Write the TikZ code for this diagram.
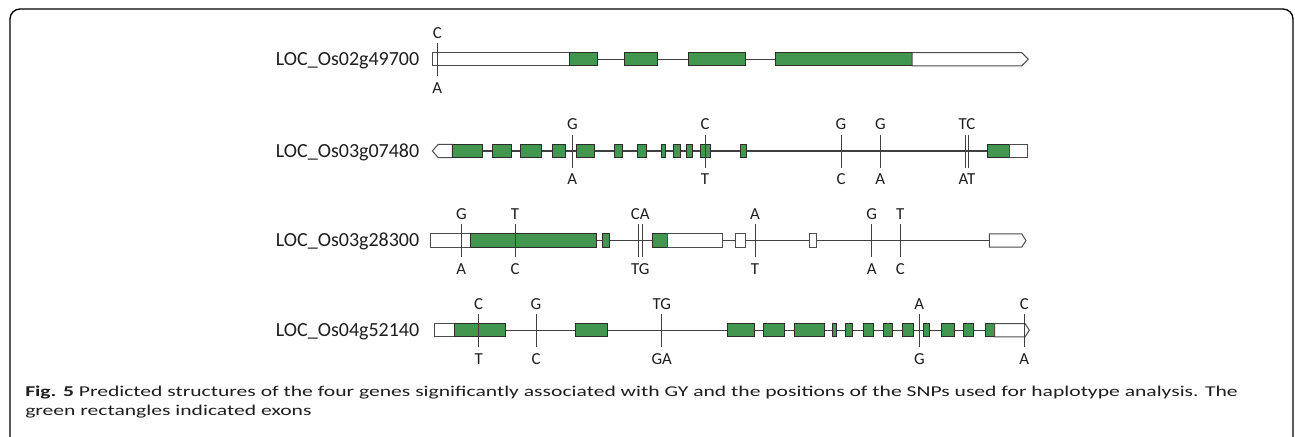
\documentclass[tikz,border=0pt]{standalone}
\usepackage{fontspec}
\setmainfont{Carlito}
\newfontfamily\capfont[FakeStretch=1.44]{Carlito}
\definecolor{exongreen}{RGB}{66,150,80}
\definecolor{edgegray}{RGB}{45,45,45}
\definecolor{linegray}{RGB}{64,64,64}
\definecolor{textdark}{RGB}{30,30,30}
\tikzset{
  exonbox/.style={draw=edgegray, fill=exongreen, line width=0.75pt},
  utrbox/.style={draw=edgegray!85, fill=white, line width=0.75pt},
  intronline/.style={draw=linegray, line width=0.8pt},
  snpline/.style={draw=linegray, line width=0.75pt},
  snplab/.style={font=\fontsize{12.6}{14}\selectfont, inner sep=0pt, anchor=center, text=textdark},
  genelab/.style={font=\fontsize{15}{17}\selectfont, inner sep=0pt, anchor=base east, text=textdark},
  caplab/.style={font=\capfont\fontsize{11.25}{14}\selectfont, inner sep=0pt, anchor=base west, text=textdark},
  frame/.style={draw=black, line width=1pt, rounded corners=7.5pt}
}
% exon / utr rectangles: x1, x2, yc
\newcommand\ex[3]{\draw[exonbox] (#1,{#3-6.7}) rectangle (#2,{#3+6.7});}
\newcommand\ut[3]{\draw[utrbox] (#1,{#3-6.7}) rectangle (#2,{#3+6.7});}
% right-pointing utr: x1, x2 (rect end), tip, yc
\newcommand\utr[4]{\draw[utrbox] (#1,{#4-6.7}) -- (#2,{#4-6.7}) -- (#3,#4) -- (#2,{#4+6.7}) -- (#1,{#4+6.7}) -- cycle;}
% snp tick: x, yc, name
\newcommand\tick[3]{\coordinate (#3t) at (#1,{#2-16.5}); \coordinate (#3b) at (#1,{#2+16.5}); \draw[snpline] (#3t) -- (#3b);}
% snp labels: x, yc, top, bottom, name
\newcommand\labs[5]{\node[snplab] (#5T) at (#1,{#2-26.5}) {#3}; \node[snplab] (#5B) at (#1,{#2+28.5}) {#4};}
\newcommand\snp[5]{\tick{#1}{#2}{#5}\labs{#1}{#2}{#3}{#4}{#5}}
\begin{document}
\begin{tikzpicture}[x=0.75pt, y=-0.75pt]
\useasboundingbox (0,0) rectangle (1295,436);
\begin{scope}
\clip (0,0) rectangle (1295,436);
\draw[frame] (10,9) rectangle (1293,448);
\end{scope}

% ---------- Row 1 ----------
\def\yc{59.2}
\node[genelab] (g1) at (419.5,{\yc+6}) {LOC\_Os02g49700};
\coordinate (r1s) at (569,\yc); \coordinate (r1e) at (912,\yc);
\draw[intronline] (r1s) -- (r1e);
\ut{432.3}{569}{\yc}
\foreach \a/\b in {569/597, 624/657.7, 688/745.7, 775.7/912} {\ex{\a}{\b}{\yc}}
\utr{912}{1021.7}{1028.3}{\yc}
\snp{437.3}{\yc}{C}{A}{s1a}

% ---------- Row 2 ----------
\def\yc{151}
\node[genelab] (g2) at (419.5,{\yc+6}) {LOC\_Os03g07480};
\coordinate (r2s) at (452.3,\yc); \coordinate (r2e) at (987.7,\yc);
\draw[intronline] (r2s) -- (r2e);
\draw[utrbox] (452.3,{\yc-6.7}) -- (438.3,{\yc-6.7}) -- (432.3,\yc) -- (438.3,{\yc+6.7}) -- (452.3,{\yc+6.7}) -- cycle;
\foreach \a/\b in {452.3/482.3, 492.7/511.7, 520/541.7, 552.3/565.7, 576/594.3, 614.7/622, 637/646.7, 661.3/665.7, 673/680.7, 686.7/692.7, 700.3/710, 740.7/746.7, 987.7/1009.3} {\ex{\a}{\b}{\yc}}
\ut{1009.3}{1027.7}{\yc}
\snp{572.3}{\yc}{G}{A}{s2a}
\snp{705}{\yc}{C}{T}{s2b}
\snp{841}{\yc}{G}{C}{s2c}
\snp{880.3}{\yc}{G}{A}{s2d}
\tick{965.7}{\yc}{s2e}
\tick{968.3}{\yc}{s2f}
\labs{967}{\yc}{TC}{AT}{s2ef}

% ---------- Row 3 ----------
\def\yc{240.5}
\node[genelab] (g3) at (419.5,{\yc+6}) {LOC\_Os03g28300};
\coordinate (r3s) at (470,\yc); \coordinate (r3e) at (989.3,\yc);
\draw[intronline] (r3s) -- (r3e);
\ut{430}{470}{\yc}
\foreach \a/\b in {470/596.7, 602.3/609.3, 652.3/667.3} {\ex{\a}{\b}{\yc}}
\foreach \a/\b in {667.3/722, 735/745, 809.3/816.7} {\ut{\a}{\b}{\yc}}
\utr{989.3}{1021.7}{1026}{\yc}
\snp{461.3}{\yc}{G}{A}{s3a}
\snp{515}{\yc}{T}{C}{s3b}
\tick{638}{\yc}{s3c}
\tick{642.3}{\yc}{s3d}
\labs{640.2}{\yc}{CA}{TG}{s3cd}
\snp{755}{\yc}{A}{T}{s3e}
\snp{871.7}{\yc}{G}{A}{s3f}
\snp{900.3}{\yc}{T}{C}{s3g}

% ---------- Row 4 ----------
\def\yc{330.2}
\node[genelab] (g4) at (419.5,{\yc+6}) {LOC\_Os04g52140};
\coordinate (r4s) at (454,\yc); \coordinate (r4e) at (994.7,\yc);
\draw[intronline] (r4s) -- (r4e);
\ut{434}{454}{\yc}
\foreach \a/\b in {454/505.3, 575.3/607, 727.3/754, 763/784.7, 794/824.7, 832/836.7, 845.7/852.3, 863.3/873.7, 883.3/892.3, 902.3/913.3, 923/929.7, 941/954.7, 963.3/973.7, 985.3/994.7} {\ex{\a}{\b}{\yc}}
\utr{994.7}{1025}{1029.3}{\yc}
\snp{478.7}{\yc}{C}{T}{s4a}
\snp{536}{\yc}{G}{C}{s4b}
\snp{661.7}{\yc}{TG}{GA}{s4c}
\snp{919.3}{\yc}{A}{G}{s4d}
\snp{1024.3}{\yc}{C}{A}{s4e}

% ---------- Caption ----------
\node[caplab] (cap1) at (25,396) {\textbf{Fig. 5} Predicted structures of the four genes significantly associated with GY and the positions of the SNPs used for haplotype analysis. The};
\node[caplab] (cap2) at (25,415) {green rectangles indicated exons};
\end{tikzpicture}
\end{document}
